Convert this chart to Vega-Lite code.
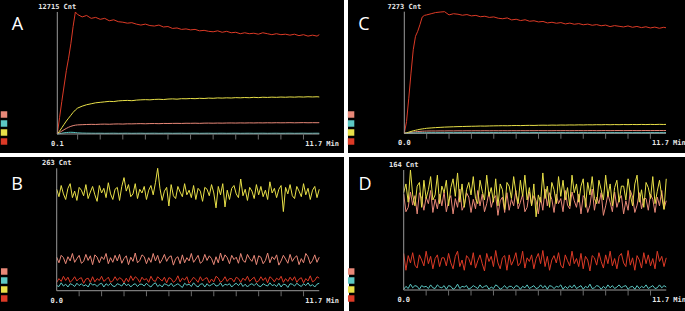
{
"$schema":"https://vega.github.io/schema/vega-lite/v6.json",
"background":"white",
"padding":0,
"spacing":4,
"config":{"view":{"stroke":null},"text":{"font":"DejaVu Sans Mono","fontSize":7,"fontWeight":"bold","color":"#e6e6e6"}},
"datasets":{
"A":[
{"t":0.1,"r":0,"y":0,"p":0,"c":0},{"t":0.2,"r":1700,"y":300,"p":150,"c":40},{"t":0.3,"r":3400,"y":650,"p":300,"c":80},{"t":0.4,"r":5000,"y":1000,"p":450,"c":120},{"t":0.5,"r":6600,"y":1350,"p":580,"c":150},{"t":0.6,"r":7900,"y":1650,"p":700,"c":170},{"t":0.7,"r":9400,"y":1950,"p":800,"c":180},{"t":0.8,"r":11200,"y":2250,"p":870,"c":170},{"t":0.9,"r":12715,"y":2500,"p":920,"c":150},{"t":1.0,"r":12450,"y":2700,"p":950,"c":120},
{"t":1.2,"r":12200,"y":2900,"p":970,"c":95},{"t":1.4,"r":12350,"y":3050,"p":990,"c":85},{"t":1.6,"r":12050,"y":3150,"p":1005,"c":80},{"t":1.8,"r":12150,"y":3250,"p":995,"c":75},{"t":2.0,"r":11950,"y":3300,"p":1020,"c":80},{"t":2.2,"r":12050,"y":3350,"p":1030,"c":70},{"t":2.4,"r":11800,"y":3400,"p":1015,"c":75},{"t":2.6,"r":11900,"y":3380,"p":1040,"c":80},{"t":2.8,"r":11700,"y":3450,"p":1050,"c":70},{"t":3.0,"r":11650,"y":3480,"p":1035,"c":75},
{"t":3.2,"r":11550,"y":3500,"p":1060,"c":80},{"t":3.4,"r":11600,"y":3470,"p":1055,"c":70},{"t":3.6,"r":11450,"y":3530,"p":1070,"c":75},{"t":3.8,"r":11350,"y":3560,"p":1080,"c":80},{"t":4.0,"r":11450,"y":3580,"p":1065,"c":70},{"t":4.2,"r":11300,"y":3560,"p":1085,"c":75},{"t":4.4,"r":11250,"y":3600,"p":1090,"c":80},{"t":4.6,"r":11350,"y":3620,"p":1075,"c":70},{"t":4.8,"r":11150,"y":3590,"p":1100,"c":75},{"t":5.0,"r":11200,"y":3640,"p":1095,"c":80},
{"t":5.2,"r":11000,"y":3660,"p":1105,"c":70},{"t":5.4,"r":11050,"y":3630,"p":1110,"c":75},{"t":5.6,"r":10900,"y":3680,"p":1100,"c":80},{"t":5.8,"r":10950,"y":3670,"p":1120,"c":70},{"t":6.0,"r":10850,"y":3700,"p":1115,"c":75},{"t":6.2,"r":10900,"y":3680,"p":1125,"c":80},{"t":6.4,"r":10750,"y":3720,"p":1110,"c":70},{"t":6.6,"r":10800,"y":3700,"p":1130,"c":75},{"t":6.8,"r":10700,"y":3740,"p":1135,"c":80},{"t":7.0,"r":10650,"y":3720,"p":1125,"c":70},
{"t":7.2,"r":10750,"y":3760,"p":1140,"c":75},{"t":7.4,"r":10600,"y":3740,"p":1130,"c":80},{"t":7.6,"r":10700,"y":3770,"p":1145,"c":70},{"t":7.8,"r":10550,"y":3750,"p":1150,"c":75},{"t":8.0,"r":10600,"y":3790,"p":1140,"c":80},{"t":8.2,"r":10450,"y":3770,"p":1155,"c":70},{"t":8.4,"r":10550,"y":3800,"p":1145,"c":75},{"t":8.6,"r":10450,"y":3780,"p":1160,"c":80},{"t":8.8,"r":10500,"y":3820,"p":1150,"c":70},{"t":9.0,"r":10400,"y":3790,"p":1165,"c":75},
{"t":9.2,"r":10550,"y":3830,"p":1155,"c":80},{"t":9.4,"r":10450,"y":3810,"p":1170,"c":70},{"t":9.6,"r":10350,"y":3840,"p":1160,"c":75},{"t":9.8,"r":10450,"y":3820,"p":1175,"c":80},{"t":10.0,"r":10350,"y":3850,"p":1165,"c":70},{"t":10.2,"r":10400,"y":3830,"p":1170,"c":75},{"t":10.4,"r":10300,"y":3860,"p":1180,"c":80},{"t":10.6,"r":10400,"y":3840,"p":1165,"c":70},{"t":10.8,"r":10250,"y":3870,"p":1175,"c":75},{"t":11.0,"r":10350,"y":3850,"p":1185,"c":80},
{"t":11.2,"r":10200,"y":3880,"p":1170,"c":70},{"t":11.4,"r":10300,"y":3860,"p":1180,"c":75},{"t":11.6,"r":10200,"y":3880,"p":1175,"c":80},{"t":11.7,"r":10350,"y":3860,"p":1180,"c":75}
],
"C":[
{"t":0.0,"r":0,"y":0,"p":0,"c":0},{"t":0.1,"r":700,"y":30,"p":15,"c":5},{"t":0.2,"r":2100,"y":70,"p":35,"c":10},{"t":0.3,"r":3600,"y":110,"p":55,"c":15},{"t":0.4,"r":5000,"y":150,"p":75,"c":20},{"t":0.5,"r":5800,"y":180,"p":90,"c":25},{"t":0.6,"r":6100,"y":210,"p":105,"c":28},{"t":0.7,"r":6500,"y":240,"p":115,"c":30},{"t":0.8,"r":6950,"y":260,"p":125,"c":32},{"t":0.9,"r":7050,"y":280,"p":130,"c":34},{"t":1.0,"r":7080,"y":300,"p":135,"c":35},
{"t":1.2,"r":7150,"y":320,"p":140,"c":38},{"t":1.4,"r":7220,"y":340,"p":138,"c":36},{"t":1.6,"r":7250,"y":355,"p":145,"c":40},{"t":1.8,"r":7273,"y":370,"p":142,"c":38},{"t":2.0,"r":7080,"y":380,"p":148,"c":42},{"t":2.2,"r":7150,"y":390,"p":144,"c":37},{"t":2.4,"r":7120,"y":400,"p":150,"c":40},{"t":2.6,"r":7060,"y":405,"p":146,"c":43},{"t":2.8,"r":7100,"y":415,"p":152,"c":38},{"t":3.0,"r":7020,"y":420,"p":148,"c":41},
{"t":3.2,"r":7050,"y":425,"p":153,"c":39},{"t":3.4,"r":6970,"y":435,"p":149,"c":42},{"t":3.6,"r":7000,"y":430,"p":155,"c":38},{"t":3.8,"r":6930,"y":440,"p":150,"c":41},{"t":4.0,"r":6960,"y":445,"p":154,"c":43},{"t":4.2,"r":6880,"y":450,"p":151,"c":39},{"t":4.4,"r":6850,"y":455,"p":156,"c":42},{"t":4.6,"r":6900,"y":450,"p":152,"c":38},{"t":4.8,"r":6780,"y":460,"p":157,"c":41},{"t":5.0,"r":6820,"y":465,"p":153,"c":43},
{"t":5.2,"r":6740,"y":460,"p":158,"c":39},{"t":5.4,"r":6790,"y":470,"p":154,"c":42},{"t":5.6,"r":6700,"y":475,"p":159,"c":38},{"t":5.8,"r":6730,"y":470,"p":155,"c":41},{"t":6.0,"r":6660,"y":480,"p":160,"c":43},{"t":6.2,"r":6690,"y":485,"p":156,"c":39},{"t":6.4,"r":6600,"y":480,"p":158,"c":42},{"t":6.6,"r":6640,"y":490,"p":155,"c":38},{"t":6.8,"r":6580,"y":485,"p":160,"c":41},{"t":7.0,"r":6620,"y":495,"p":157,"c":43},
{"t":7.2,"r":6540,"y":490,"p":161,"c":39},{"t":7.4,"r":6590,"y":500,"p":156,"c":42},{"t":7.6,"r":6520,"y":495,"p":159,"c":38},{"t":7.8,"r":6560,"y":505,"p":162,"c":41},{"t":8.0,"r":6490,"y":500,"p":157,"c":43},{"t":8.2,"r":6530,"y":510,"p":160,"c":39},{"t":8.4,"r":6460,"y":505,"p":163,"c":42},{"t":8.6,"r":6500,"y":515,"p":158,"c":38},{"t":8.8,"r":6430,"y":510,"p":161,"c":41},{"t":9.0,"r":6470,"y":520,"p":164,"c":43},
{"t":9.2,"r":6380,"y":512,"p":159,"c":39},{"t":9.4,"r":6440,"y":522,"p":162,"c":42},{"t":9.6,"r":6400,"y":515,"p":165,"c":38},{"t":9.8,"r":6360,"y":525,"p":160,"c":41},{"t":10.0,"r":6420,"y":518,"p":163,"c":43},{"t":10.2,"r":6340,"y":528,"p":166,"c":39},{"t":10.4,"r":6390,"y":520,"p":161,"c":42},{"t":10.6,"r":6320,"y":530,"p":164,"c":38},{"t":10.8,"r":6370,"y":522,"p":167,"c":41},{"t":11.0,"r":6300,"y":532,"p":162,"c":43},
{"t":11.2,"r":6350,"y":525,"p":165,"c":39},{"t":11.4,"r":6280,"y":535,"p":168,"c":42},{"t":11.6,"r":6340,"y":528,"p":163,"c":38},{"t":11.7,"r":6310,"y":532,"p":166,"c":41}
],
"B":[
{"t":0.0,"r":18,"y":218,"p":72,"c":11},{"t":0.1,"r":26,"y":202,"p":60,"c":9},{"t":0.2,"r":20,"y":226,"p":76,"c":17},{"t":0.3,"r":31,"y":208,"p":71,"c":10},{"t":0.4,"r":22,"y":196,"p":58,"c":14},{"t":0.5,"r":29,"y":220,"p":73,"c":8},{"t":0.6,"r":18,"y":230,"p":64,"c":15},{"t":0.7,"r":23,"y":200,"p":80,"c":13},{"t":0.8,"r":30,"y":214,"p":61,"c":9},{"t":0.9,"r":21,"y":194,"p":69,"c":16},
{"t":1.0,"r":26,"y":222,"p":76,"c":11},{"t":1.1,"r":28,"y":216,"p":59,"c":15},{"t":1.2,"r":16,"y":204,"p":63,"c":10},{"t":1.3,"r":25,"y":228,"p":78,"c":13},{"t":1.4,"r":27,"y":198,"p":65,"c":8},{"t":1.5,"r":18,"y":212,"p":75,"c":17},{"t":1.6,"r":30,"y":224,"p":56,"c":12},{"t":1.7,"r":19,"y":206,"p":77,"c":14},{"t":1.8,"r":26,"y":192,"p":72,"c":9},{"t":1.9,"r":22,"y":226,"p":60,"c":14},
{"t":2.0,"r":31,"y":210,"p":73,"c":16},{"t":2.1,"r":20,"y":220,"p":67,"c":8},{"t":2.2,"r":24,"y":200,"p":80,"c":15},{"t":2.3,"r":29,"y":232,"p":58,"c":11},{"t":2.4,"r":18,"y":208,"p":71,"c":16},{"t":2.5,"r":21,"y":196,"p":61,"c":10},{"t":2.6,"r":30,"y":218,"p":76,"c":9},{"t":2.7,"r":22,"y":222,"p":64,"c":15},{"t":2.8,"r":28,"y":194,"p":78,"c":13},{"t":2.9,"r":25,"y":224,"p":59,"c":10},
{"t":3.0,"r":17,"y":243,"p":69,"c":17},{"t":3.1,"r":27,"y":214,"p":75,"c":11},{"t":3.2,"r":19,"y":228,"p":56,"c":14},{"t":3.3,"r":32,"y":202,"p":72,"c":8},{"t":3.4,"r":22,"y":208,"p":63,"c":13},{"t":3.5,"r":30,"y":230,"p":81,"c":15},{"t":3.6,"r":26,"y":198,"p":60,"c":9},{"t":3.7,"r":18,"y":218,"p":65,"c":14},{"t":3.8,"r":29,"y":210,"p":77,"c":14},{"t":3.9,"r":23,"y":224,"p":73,"c":10},
{"t":4.0,"r":26,"y":196,"p":58,"c":16},{"t":4.1,"r":18,"y":216,"p":71,"c":11},{"t":4.2,"r":31,"y":226,"p":61,"c":8},{"t":4.3,"r":22,"y":206,"p":80,"c":14},{"t":4.4,"r":20,"y":232,"p":64,"c":17},{"t":4.5,"r":30,"y":263,"p":76,"c":9},{"t":4.6,"r":25,"y":220,"p":59,"c":13},{"t":4.7,"r":21,"y":194,"p":67,"c":8},{"t":4.8,"r":29,"y":214,"p":78,"c":15},{"t":4.9,"r":17,"y":222,"p":63,"c":13},
{"t":5.0,"r":28,"y":182,"p":72,"c":10},{"t":5.1,"r":26,"y":228,"p":75,"c":16},{"t":5.2,"r":18,"y":204,"p":55,"c":9},{"t":5.3,"r":22,"y":198,"p":69,"c":12},{"t":5.4,"r":32,"y":224,"p":73,"c":15},{"t":5.5,"r":19,"y":212,"p":58,"c":11},{"t":5.6,"r":27,"y":202,"p":77,"c":7},{"t":5.7,"r":23,"y":230,"p":60,"c":16},{"t":5.8,"r":30,"y":206,"p":71,"c":12},{"t":5.9,"r":16,"y":216,"p":64,"c":14},
{"t":6.0,"r":22,"y":200,"p":80,"c":9},{"t":6.1,"r":29,"y":226,"p":61,"c":17},{"t":6.2,"r":24,"y":196,"p":68,"c":11},{"t":6.3,"r":18,"y":220,"p":76,"c":8},{"t":6.4,"r":30,"y":214,"p":59,"c":14},{"t":6.5,"r":21,"y":192,"p":63,"c":15},{"t":6.6,"r":26,"y":222,"p":78,"c":8},{"t":6.7,"r":28,"y":218,"p":65,"c":15},{"t":6.8,"r":17,"y":204,"p":75,"c":10},{"t":6.9,"r":25,"y":228,"p":69,"c":13},
{"t":7.0,"r":19,"y":210,"p":56,"c":16},{"t":7.1,"r":31,"y":178,"p":73,"c":10},{"t":7.2,"r":27,"y":224,"p":60,"c":11},{"t":7.3,"r":18,"y":206,"p":81,"c":17},{"t":7.4,"r":22,"y":230,"p":64,"c":9},{"t":7.5,"r":30,"y":180,"p":77,"c":14},{"t":7.6,"r":20,"y":216,"p":71,"c":12},{"t":7.7,"r":26,"y":196,"p":58,"c":15},{"t":7.8,"r":26,"y":220,"p":76,"c":8},{"t":7.9,"r":19,"y":226,"p":67,"c":13},
{"t":8.0,"r":29,"y":208,"p":72,"c":16},{"t":8.1,"r":26,"y":200,"p":59,"c":11},{"t":8.2,"r":18,"y":240,"p":80,"c":17},{"t":8.3,"r":27,"y":204,"p":65,"c":9},{"t":8.4,"r":22,"y":218,"p":61,"c":14},{"t":8.5,"r":31,"y":194,"p":78,"c":8},{"t":8.6,"r":20,"y":222,"p":69,"c":13},{"t":8.7,"r":25,"y":214,"p":63,"c":15},{"t":8.8,"r":29,"y":198,"p":76,"c":11},{"t":8.9,"r":18,"y":228,"p":56,"c":16},
{"t":9.0,"r":21,"y":206,"p":75,"c":10},{"t":9.1,"r":30,"y":224,"p":72,"c":9},{"t":9.2,"r":22,"y":202,"p":58,"c":15},{"t":9.3,"r":28,"y":216,"p":65,"c":12},{"t":9.4,"r":17,"y":196,"p":81,"c":10},{"t":9.5,"r":30,"y":234,"p":60,"c":17},{"t":9.6,"r":26,"y":210,"p":73,"c":11},{"t":9.7,"r":19,"y":220,"p":67,"c":13},{"t":9.8,"r":27,"y":200,"p":77,"c":9},{"t":9.9,"r":23,"y":218,"p":55,"c":16},
{"t":10.0,"r":31,"y":226,"p":64,"c":8},{"t":10.1,"r":18,"y":170,"p":76,"c":14},{"t":10.2,"r":26,"y":222,"p":68,"c":13},{"t":10.3,"r":20,"y":208,"p":59,"c":7},{"t":10.4,"r":29,"y":228,"p":78,"c":15},{"t":10.5,"r":22,"y":204,"p":63,"c":14},{"t":10.6,"r":30,"y":198,"p":71,"c":10},{"t":10.7,"r":18,"y":224,"p":75,"c":16},{"t":10.8,"r":25,"y":214,"p":56,"c":12},{"t":10.9,"r":28,"y":202,"p":69,"c":9},
{"t":11.0,"r":17,"y":230,"p":60,"c":15},{"t":11.1,"r":26,"y":206,"p":80,"c":11},{"t":11.2,"r":21,"y":220,"p":73,"c":17},{"t":11.3,"r":32,"y":196,"p":58,"c":10},{"t":11.4,"r":19,"y":216,"p":65,"c":13},{"t":11.5,"r":22,"y":224,"p":77,"c":8},{"t":11.6,"r":30,"y":200,"p":61,"c":14},{"t":11.7,"r":27,"y":218,"p":72,"c":16}
],
"D":[
{"t":0.0,"r":50,"y":133,"p":131,"c":1},{"t":0.1,"r":27,"y":145,"p":107,"c":5},{"t":0.2,"r":47,"y":120,"p":113,"c":2},{"t":0.3,"r":37,"y":164,"p":134,"c":8},{"t":0.4,"r":51,"y":130,"p":116,"c":3},{"t":0.5,"r":34,"y":115,"p":129,"c":6},{"t":0.6,"r":30,"y":142,"p":104,"c":5},{"t":0.7,"r":48,"y":147,"p":133,"c":1},{"t":0.8,"r":41,"y":113,"p":125,"c":6},{"t":0.9,"r":33,"y":150,"p":109,"c":4},
{"t":1.0,"r":53,"y":125,"p":127,"c":5},{"t":1.1,"r":36,"y":137,"p":118,"c":2},{"t":1.2,"r":46,"y":155,"p":136,"c":7},{"t":1.3,"r":29,"y":123,"p":106,"c":3},{"t":1.4,"r":43,"y":130,"p":124,"c":2},{"t":1.5,"r":48,"y":157,"p":111,"c":7},{"t":1.6,"r":32,"y":118,"p":131,"c":4},{"t":1.7,"r":44,"y":142,"p":115,"c":3},{"t":1.8,"r":44,"y":133,"p":134,"c":6},{"t":1.9,"r":33,"y":150,"p":107,"c":1},
{"t":2.0,"r":50,"y":115,"p":122,"c":6},{"t":2.1,"r":37,"y":140,"p":129,"c":5},{"t":2.2,"r":29,"y":152,"p":104,"c":1},{"t":2.3,"r":46,"y":128,"p":125,"c":3},{"t":2.4,"r":53,"y":160,"p":113,"c":8},{"t":2.5,"r":32,"y":120,"p":138,"c":2},{"t":2.6,"r":41,"y":145,"p":109,"c":5},{"t":2.7,"r":27,"y":113,"p":116,"c":4},{"t":2.8,"r":47,"y":137,"p":133,"c":6},{"t":2.9,"r":43,"y":147,"p":127,"c":1},
{"t":3.0,"r":34,"y":130,"p":106,"c":3},{"t":3.1,"r":51,"y":155,"p":124,"c":6},{"t":3.2,"r":30,"y":125,"p":111,"c":4},{"t":3.3,"r":40,"y":118,"p":136,"c":2},{"t":3.4,"r":48,"y":150,"p":115,"c":7},{"t":3.5,"r":36,"y":135,"p":131,"c":3},{"t":3.6,"r":26,"y":123,"p":107,"c":5},{"t":3.7,"r":50,"y":157,"p":118,"c":6},{"t":3.8,"r":39,"y":128,"p":134,"c":1},{"t":3.9,"r":46,"y":140,"p":113,"c":4},
{"t":4.0,"r":32,"y":120,"p":125,"c":2},{"t":4.1,"r":54,"y":152,"p":129,"c":7},{"t":4.2,"r":37,"y":115,"p":102,"c":5},{"t":4.3,"r":29,"y":145,"p":122,"c":1},{"t":4.4,"r":44,"y":137,"p":127,"c":3},{"t":4.5,"r":47,"y":110,"p":106,"c":6},{"t":4.6,"r":27,"y":147,"p":133,"c":2},{"t":4.7,"r":48,"y":142,"p":109,"c":5},{"t":4.8,"r":34,"y":125,"p":124,"c":5},{"t":4.9,"r":41,"y":155,"p":115,"c":2},
{"t":5.0,"r":51,"y":133,"p":136,"c":6},{"t":5.1,"r":33,"y":118,"p":111,"c":5},{"t":5.2,"r":37,"y":150,"p":120,"c":1},{"t":5.3,"r":53,"y":128,"p":131,"c":5},{"t":5.4,"r":30,"y":157,"p":107,"c":3},{"t":5.5,"r":44,"y":123,"p":113,"c":7},{"t":5.6,"r":39,"y":140,"p":134,"c":2},{"t":5.7,"r":48,"y":115,"p":116,"c":4},{"t":5.8,"r":29,"y":145,"p":129,"c":6},{"t":5.9,"r":43,"y":100,"p":122,"c":2},
{"t":6.0,"r":50,"y":130,"p":104,"c":3},{"t":6.1,"r":36,"y":120,"p":127,"c":7},{"t":6.2,"r":54,"y":160,"p":109,"c":3},{"t":6.3,"r":32,"y":125,"p":138,"c":6},{"t":6.4,"r":46,"y":142,"p":115,"c":1},{"t":6.5,"r":27,"y":113,"p":133,"c":6},{"t":6.6,"r":41,"y":147,"p":124,"c":5},{"t":6.7,"r":47,"y":137,"p":106,"c":2},{"t":6.8,"r":37,"y":118,"p":131,"c":5},{"t":6.9,"r":51,"y":155,"p":118,"c":4},
{"t":7.0,"r":34,"y":128,"p":125,"c":7},{"t":7.1,"r":30,"y":150,"p":107,"c":1},{"t":7.2,"r":48,"y":123,"p":136,"c":5},{"t":7.3,"r":40,"y":140,"p":116,"c":2},{"t":7.4,"r":33,"y":115,"p":111,"c":6},{"t":7.5,"r":53,"y":157,"p":134,"c":3},{"t":7.6,"r":36,"y":133,"p":122,"c":7},{"t":7.7,"r":43,"y":145,"p":113,"c":2},{"t":7.8,"r":32,"y":120,"p":131,"c":4},{"t":7.9,"r":50,"y":142,"p":104,"c":6},
{"t":8.0,"r":29,"y":152,"p":129,"c":1},{"t":8.1,"r":46,"y":113,"p":125,"c":5},{"t":8.2,"r":41,"y":147,"p":106,"c":3},{"t":8.3,"r":26,"y":130,"p":116,"c":8},{"t":8.4,"r":47,"y":155,"p":138,"c":2},{"t":8.5,"r":44,"y":125,"p":109,"c":3},{"t":8.6,"r":34,"y":118,"p":127,"c":6},{"t":8.7,"r":51,"y":150,"p":118,"c":5},{"t":8.8,"r":39,"y":137,"p":133,"c":1},{"t":8.9,"r":30,"y":123,"p":102,"c":5},
{"t":9.0,"r":48,"y":157,"p":115,"c":2},{"t":9.1,"r":36,"y":128,"p":131,"c":7},{"t":9.2,"r":53,"y":145,"p":120,"c":3},{"t":9.3,"r":33,"y":115,"p":107,"c":6},{"t":9.4,"r":43,"y":140,"p":134,"c":2},{"t":9.5,"r":29,"y":150,"p":113,"c":4},{"t":9.6,"r":46,"y":120,"p":124,"c":7},{"t":9.7,"r":50,"y":142,"p":129,"c":3},{"t":9.8,"r":37,"y":142,"p":104,"c":5},{"t":9.9,"r":32,"y":123,"p":122,"c":6},
{"t":10.0,"r":54,"y":152,"p":109,"c":1},{"t":10.1,"r":34,"y":130,"p":136,"c":4},{"t":10.2,"r":44,"y":115,"p":127,"c":5},{"t":10.3,"r":27,"y":145,"p":106,"c":1},{"t":10.4,"r":47,"y":157,"p":116,"c":6},{"t":10.5,"r":41,"y":120,"p":133,"c":2},{"t":10.6,"r":30,"y":137,"p":111,"c":5},{"t":10.7,"r":51,"y":113,"p":125,"c":3},{"t":10.8,"r":36,"y":147,"p":125,"c":7},{"t":10.9,"r":48,"y":140,"p":109,"c":2},
{"t":11.0,"r":33,"y":125,"p":131,"c":4},{"t":11.1,"r":43,"y":155,"p":124,"c":6},{"t":11.2,"r":29,"y":118,"p":106,"c":2},{"t":11.3,"r":53,"y":135,"p":127,"c":3},{"t":11.4,"r":39,"y":150,"p":115,"c":7},{"t":11.5,"r":46,"y":128,"p":136,"c":3},{"t":11.6,"r":32,"y":110,"p":111,"c":6},{"t":11.7,"r":44,"y":152,"p":122,"c":4}
]
},
"vconcat":[
{"spacing":3,"hconcat":[
{"width":344,"height":153,"view":{"fill":"black","stroke":null},"resolve":{"scale":{"y":"independent"}},
"layer":[
{"layer":[
{"data":{"name":"A"},"transform":[{"fold":["p","c","y","r"],"as":["s","v"]}],"mark":{"type":"line","strokeWidth":1,"clip":true},
"encoding":{"x":{"field":"t","type":"quantitative","scale":{"domain":[-2.437,12.794],"nice":false,"zero":false},"axis":null},
"y":{"field":"v","type":"quantitative","scale":{"domain":[-1980,13963],"nice":false,"zero":false},"axis":null},
"color":{"field":"s","type":"nominal","scale":{"domain":["p","c","y","r"],"range":["#e88878","#5cc8c4","#e8e048","#dc3a26"]},"legend":null}}},
{"data":{"values":[{}]},"mark":{"type":"rule","color":"#9a9a9a","strokeWidth":1},"encoding":{"x":{"datum":0.1},"x2":{"datum":11.7},"y":{"datum":0}}},
{"data":{"values":[{}]},"mark":{"type":"rule","color":"#9a9a9a","strokeWidth":1},"encoding":{"x":{"datum":0.1},"y":{"datum":0},"y2":{"datum":12715}}},
{"data":{"values":[{"m":1},{"m":2},{"m":3},{"m":4},{"m":5},{"m":6},{"m":7},{"m":8},{"m":9},{"m":10},{"m":11}]},"mark":{"type":"tick","orient":"vertical","size":5,"thickness":1,"color":"#9a9a9a","yOffset":3},"encoding":{"x":{"field":"m","type":"quantitative"},"y":{"datum":0}}},
{"data":{"values":[{}]},"mark":{"type":"text","text":"12715 Cnt","dy":-5},"encoding":{"x":{"datum":0.1},"y":{"datum":12715}}},
{"data":{"values":[{}]},"mark":{"type":"text","text":"0.1","dy":10},"encoding":{"x":{"datum":0.1},"y":{"datum":0}}},
{"data":{"values":[{}]},"mark":{"type":"text","text":"11.7 Min","dy":10,"dx":-14,"align":"left"},"encoding":{"x":{"datum":11.7},"y":{"datum":0}}},
{"data":{"values":[{}]},"mark":{"type":"text","text":"A","font":"Open Sans","fontSize":18,"fontWeight":"normal","color":"white","baseline":"alphabetic"},"encoding":{"x":{"datum":-1.662},"y":{"datum":10837}}}
]},
{"data":{"values":[{"s":"p"},{"s":"c"},{"s":"y"},{"s":"r"}]},"mark":{"type":"square","size":42,"filled":true,"opacity":1},
"encoding":{"x":{"datum":-2.26},"y":{"field":"s","type":"nominal","scale":{"type":"point","domain":["p","c","y","r"],"range":[114.5,141.5],"padding":0},"axis":null},"color":{"field":"s","type":"nominal","legend":null}}}
]},
{"width":338,"height":153,"view":{"fill":"black","stroke":null},"resolve":{"scale":{"y":"independent"}},
"layer":[
{"layer":[
{"data":{"name":"C"},"transform":[{"fold":["p","c","y","r"],"as":["s","v"]}],"mark":{"type":"line","strokeWidth":1,"clip":true},
"encoding":{"x":{"field":"t","type":"quantitative","scale":{"domain":[-2.517,12.593],"nice":false,"zero":false},"axis":null},
"y":{"field":"v","type":"quantitative","scale":{"domain":[-1178,7971],"nice":false,"zero":false},"axis":null},
"color":{"field":"s","type":"nominal","scale":{"domain":["p","c","y","r"],"range":["#e88878","#5cc8c4","#e8e048","#dc3a26"]},"legend":null}}},
{"data":{"values":[{}]},"mark":{"type":"rule","color":"#9a9a9a","strokeWidth":1},"encoding":{"x":{"datum":0},"x2":{"datum":11.7},"y":{"datum":0}}},
{"data":{"values":[{}]},"mark":{"type":"rule","color":"#9a9a9a","strokeWidth":1},"encoding":{"x":{"datum":0},"y":{"datum":0},"y2":{"datum":7273}}},
{"data":{"values":[{"m":1},{"m":2},{"m":3},{"m":4},{"m":5},{"m":6},{"m":7},{"m":8},{"m":9},{"m":10},{"m":11}]},"mark":{"type":"tick","orient":"vertical","size":5,"thickness":1,"color":"#9a9a9a","yOffset":3},"encoding":{"x":{"field":"m","type":"quantitative"},"y":{"datum":0}}},
{"data":{"values":[{}]},"mark":{"type":"text","text":"7273 Cnt","dy":-5},"encoding":{"x":{"datum":0},"y":{"datum":7273}}},
{"data":{"values":[{}]},"mark":{"type":"text","text":"0.0","dy":10},"encoding":{"x":{"datum":0},"y":{"datum":0}}},
{"data":{"values":[{}]},"mark":{"type":"text","text":"11.7 Min","dy":10,"dx":-14,"align":"left"},"encoding":{"x":{"datum":11.7},"y":{"datum":0}}},
{"data":{"values":[{}]},"mark":{"type":"text","text":"C","font":"Open Sans","fontSize":18,"fontWeight":"normal","color":"white","baseline":"alphabetic"},"encoding":{"x":{"datum":-1.8},"y":{"datum":6177}}}
]},
{"data":{"values":[{"s":"p"},{"s":"c"},{"s":"y"},{"s":"r"}]},"mark":{"type":"square","size":42,"filled":true,"opacity":1},
"encoding":{"x":{"datum":-2.38},"y":{"field":"s","type":"nominal","scale":{"type":"point","domain":["p","c","y","r"],"range":[114.5,141.5],"padding":0},"axis":null},"color":{"field":"s","type":"nominal","legend":null}}}
]}
]},
{"spacing":3,"hconcat":[
{"width":344,"height":154,"view":{"fill":"black","stroke":null},"resolve":{"scale":{"y":"independent"}},
"layer":[
{"layer":[
{"data":{"name":"B"},"transform":[{"fold":["p","c","y","r"],"as":["s","v"]}],"mark":{"type":"line","strokeWidth":1,"clip":true},
"encoding":{"x":{"field":"t","type":"quantitative","scale":{"domain":[-2.527,12.803],"nice":false,"zero":false},"axis":null},
"y":{"field":"v","type":"quantitative","scale":{"domain":[-43.6,287.3],"nice":false,"zero":false},"axis":null},
"color":{"field":"s","type":"nominal","scale":{"domain":["p","c","y","r"],"range":["#e88878","#5cc8c4","#e8e048","#dc3a26"]},"legend":null}}},
{"data":{"values":[{}]},"mark":{"type":"rule","color":"#9a9a9a","strokeWidth":1},"encoding":{"x":{"datum":0},"x2":{"datum":11.7},"y":{"datum":0}}},
{"data":{"values":[{}]},"mark":{"type":"rule","color":"#9a9a9a","strokeWidth":1},"encoding":{"x":{"datum":0},"y":{"datum":0},"y2":{"datum":263}}},
{"data":{"values":[{"m":1},{"m":2},{"m":3},{"m":4},{"m":5},{"m":6},{"m":7},{"m":8},{"m":9},{"m":10},{"m":11}]},"mark":{"type":"tick","orient":"vertical","size":5,"thickness":1,"color":"#9a9a9a","yOffset":3},"encoding":{"x":{"field":"m","type":"quantitative"},"y":{"datum":0}}},
{"data":{"values":[{}]},"mark":{"type":"text","text":"263 Cnt","dy":-5},"encoding":{"x":{"datum":0},"y":{"datum":263}}},
{"data":{"values":[{}]},"mark":{"type":"text","text":"0.0","dy":10},"encoding":{"x":{"datum":0},"y":{"datum":0}}},
{"data":{"values":[{}]},"mark":{"type":"text","text":"11.7 Min","dy":10,"dx":-14,"align":"left"},"encoding":{"x":{"datum":11.7},"y":{"datum":0}}},
{"data":{"values":[{}]},"mark":{"type":"text","text":"B","font":"Open Sans","fontSize":18,"fontWeight":"normal","color":"white","baseline":"alphabetic"},"encoding":{"x":{"datum":-1.77},"y":{"datum":216}}}
]},
{"data":{"values":[{"s":"p"},{"s":"c"},{"s":"y"},{"s":"r"}]},"mark":{"type":"square","size":42,"filled":true,"opacity":1},
"encoding":{"x":{"datum":-2.34},"y":{"field":"s","type":"nominal","scale":{"type":"point","domain":["p","c","y","r"],"range":[114.5,141.5],"padding":0},"axis":null},"color":{"field":"s","type":"nominal","legend":null}}}
]},
{"width":338,"height":154,"view":{"fill":"black","stroke":null},"resolve":{"scale":{"y":"independent"}},
"layer":[
{"layer":[
{"data":{"name":"D"},"transform":[{"fold":["p","c","y","r"],"as":["s","v"]}],"mark":{"type":"line","strokeWidth":1,"clip":true},
"encoding":{"x":{"field":"t","type":"quantitative","scale":{"domain":[-2.438,12.625],"nice":false,"zero":false},"axis":null},
"y":{"field":"v","type":"quantitative","scale":{"domain":[-28.7,181.8],"nice":false,"zero":false},"axis":null},
"color":{"field":"s","type":"nominal","scale":{"domain":["p","c","y","r"],"range":["#e88878","#5cc8c4","#e8e048","#dc3a26"]},"legend":null}}},
{"data":{"values":[{}]},"mark":{"type":"rule","color":"#9a9a9a","strokeWidth":1},"encoding":{"x":{"datum":0},"x2":{"datum":11.7},"y":{"datum":0}}},
{"data":{"values":[{}]},"mark":{"type":"rule","color":"#9a9a9a","strokeWidth":1},"encoding":{"x":{"datum":0},"y":{"datum":0},"y2":{"datum":164}}},
{"data":{"values":[{"m":1},{"m":2},{"m":3},{"m":4},{"m":5},{"m":6},{"m":7},{"m":8},{"m":9},{"m":10},{"m":11}]},"mark":{"type":"tick","orient":"vertical","size":5,"thickness":1,"color":"#9a9a9a","yOffset":3},"encoding":{"x":{"field":"m","type":"quantitative"},"y":{"datum":0}}},
{"data":{"values":[{}]},"mark":{"type":"text","text":"164 Cnt","dy":-5},"encoding":{"x":{"datum":0},"y":{"datum":164}}},
{"data":{"values":[{}]},"mark":{"type":"text","text":"0.0","dy":10},"encoding":{"x":{"datum":0},"y":{"datum":0}}},
{"data":{"values":[{}]},"mark":{"type":"text","text":"11.7 Min","dy":10,"dx":-14,"align":"left"},"encoding":{"x":{"datum":11.7},"y":{"datum":0}}},
{"data":{"values":[{}]},"mark":{"type":"text","text":"D","font":"Open Sans","fontSize":18,"fontWeight":"normal","color":"white","baseline":"alphabetic"},"encoding":{"x":{"datum":-1.72},"y":{"datum":137}}}
]},
{"data":{"values":[{"s":"p"},{"s":"c"},{"s":"y"},{"s":"r"}]},"mark":{"type":"square","size":42,"filled":true,"opacity":1},
"encoding":{"x":{"datum":-2.34},"y":{"field":"s","type":"nominal","scale":{"type":"point","domain":["p","c","y","r"],"range":[114.5,141.5],"padding":0},"axis":null},"color":{"field":"s","type":"nominal","legend":null}}}
]}
]}
]
}
